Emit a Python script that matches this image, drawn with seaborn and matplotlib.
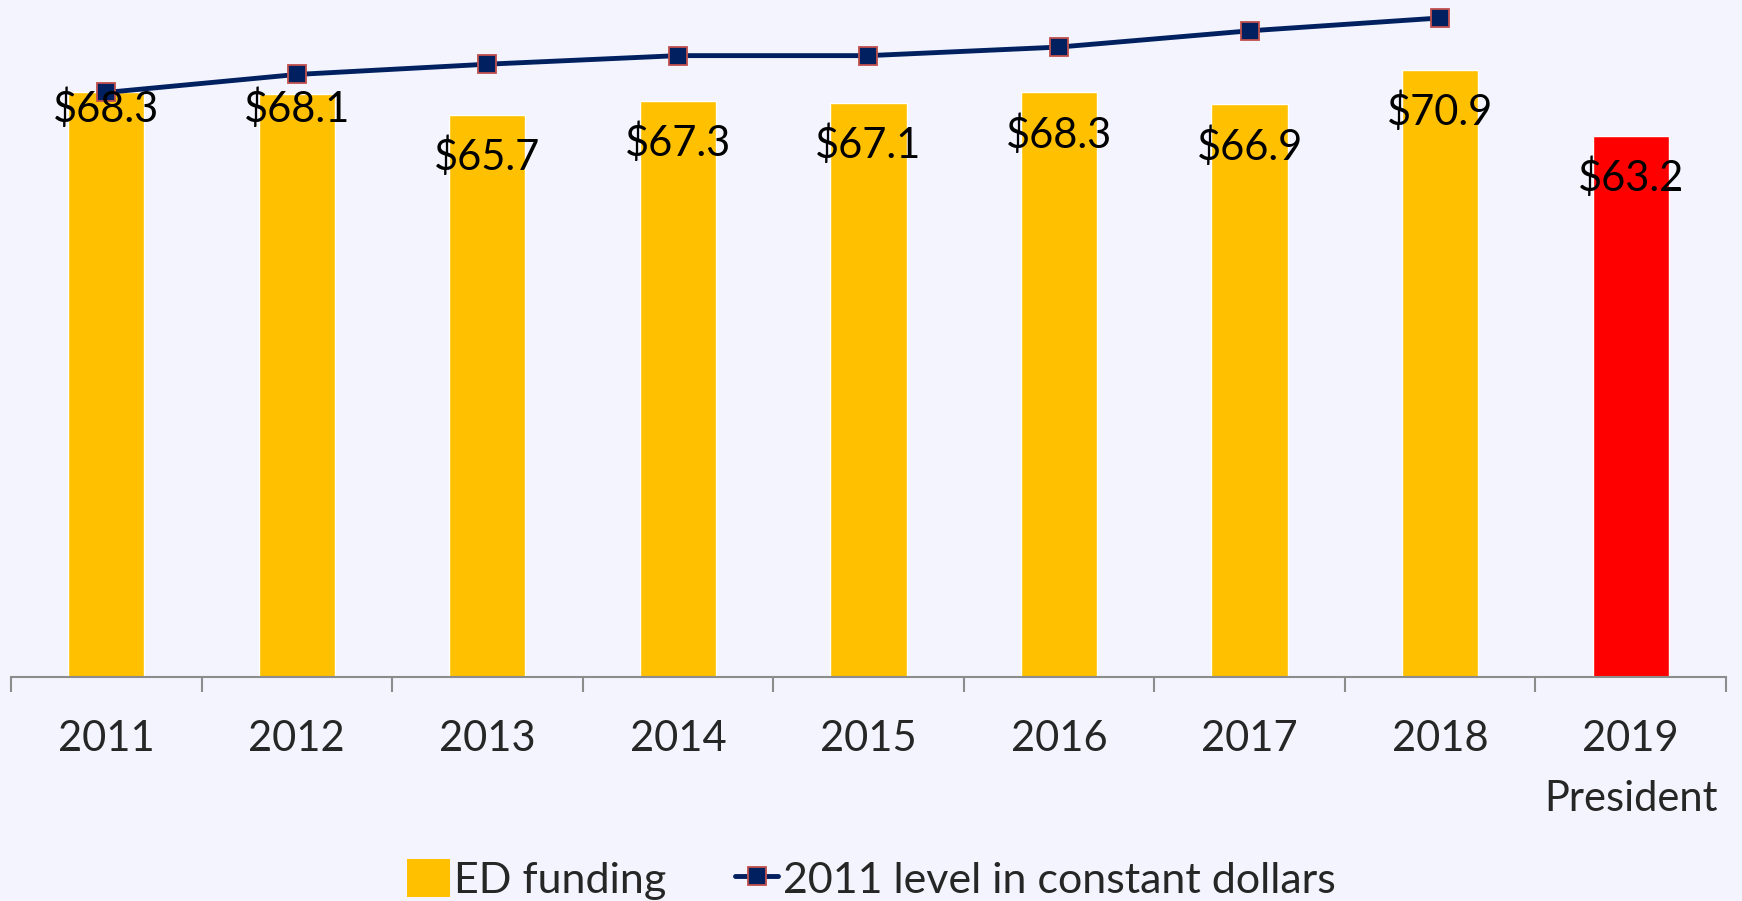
import numpy as np
import seaborn as sns
import matplotlib.pyplot as plt
from matplotlib.patches import Patch
from matplotlib.lines import Line2D

# values ($ billions)
years = ['2011', '2012', '2013', '2014', '2015', '2016', '2017', '2018', '2019\nPresident']
ed_funding = [68.3, 68.1, 65.7, 67.3, 67.1, 68.3, 66.9, 70.9, 63.2]
constant_2011 = [68.3, 70.4, 71.6, 72.6, 72.6, 73.6, 75.5, 77.0]
bar_colors = ['#FFC000'] * 8 + ['#FF0000']

bg = '#F3F4FD'
sns.set_theme(style='white', rc={'axes.facecolor': bg, 'figure.facecolor': bg})
plt.rcParams['font.family'] = ['Lato', 'DejaVu Sans']
fs = 30

fig = plt.figure(figsize=(17.42, 9.01), dpi=100)
ax = fig.add_axes([0.0063, 0.2486, 0.9845, 0.7514])

sns.barplot(x=years, y=ed_funding, hue=years, palette=bar_colors, legend=False,
            width=0.4, saturation=1, ax=ax)

x_line = np.arange(len(constant_2011))
ax.plot(x_line, constant_2011, color='#002060', lw=3.5, marker='s', ms=13,
        mfc='#002060', mec='#C0504D', mew=1.3, zorder=3)

# data labels sit just inside the bar top; first two were nudged up in the original
label_drop = [16, 15, 42, 42, 42, 42, 42, 42, 42]
for i, v in enumerate(ed_funding):
    ax.annotate(f'\\${v:.1f}', xy=(i, v), xytext=(0, -label_drop[i]),
                textcoords='offset pixels', ha='center', va='center',
                fontsize=fs, color='black', zorder=4)

ax.set_xlim(-0.5, len(years) - 0.5)
ax.set_ylim(0, 79.1)
ax.set_yticks([])
ax.set_xlabel('')
ax.set_ylabel('')

# category boundary ticks, labels centred on the bars
ax.set_xticks(np.arange(-0.5, len(years), 1))
ax.set_xticklabels([])
ax.tick_params(axis='x', which='major', length=11, width=1.5, color='#8C8C8C', bottom=True)
ax.set_xticks(np.arange(len(years)), minor=True)
ax.set_xticklabels(years, minor=True, fontsize=fs, linespacing=1.7)
ax.tick_params(axis='x', which='minor', length=0, pad=31)

for s in ['top', 'left', 'right']:
    ax.spines[s].set_visible(False)
ax.spines['bottom'].set_color('#8C8C8C')
ax.spines['bottom'].set_linewidth(1.5)

handles = [
    Patch(facecolor='#FFC000', edgecolor='none', label='ED funding'),
    Line2D([], [], color='#002060', lw=3.5, marker='s', ms=13, mfc='#002060',
           mec='#C0504D', mew=1.3, label='2011 level in constant dollars'),
]
fig.legend(handles=handles, loc='center', bbox_to_anchor=(0.5, 0.024), ncol=2,
           frameon=False, fontsize=fs + 1, handlelength=1.0, handleheight=1.0,
           handletextpad=0.1, columnspacing=1.6)

fig.savefig('out.png', dpi=100, facecolor=bg)
